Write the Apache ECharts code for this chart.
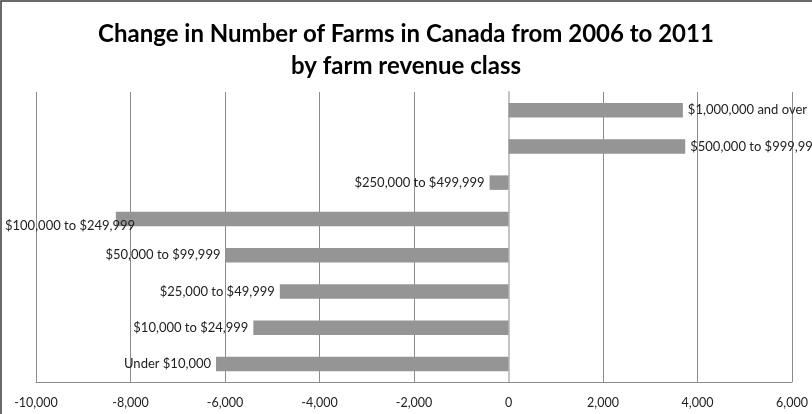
<!DOCTYPE html>
<html>
<head>
<meta charset="utf-8">
<script src="https://cdn.jsdelivr.net/npm/echarts@6/dist/echarts.min.js"></script>
<style>
  html, body { margin: 0; padding: 0; background: #fff; }
  #chart { width: 812px; height: 414px; }
</style>
</head>
<body>
<div id="chart"></div>
<script>
// Farm revenue classes, listed top to bottom
const revenueClasses = [
  '$1,000,000 and over',
  '$500,000 to $999,999',
  '$250,000 to $499,999',
  '$100,000 to $249,999',
  '$50,000 to $99,999',
  '$25,000 to $49,999',
  '$10,000 to $24,999',
  'Under $10,000'
];
// Change in number of farms, 2006 to 2011
const farmChange = [3690, 3740, -400, -8310, -5990, -4840, -5400, -6190];
// Horizontal axis range
const axisMin = -10000;
const axisMax = 6000;
const axisStep = 2000;

const labelFont = 'Lato, "Open Sans", sans-serif';

const chart = echarts.init(document.getElementById('chart'));
chart.setOption({
  animation: false,
  backgroundColor: '#ffffff',
  title: {
    text: 'Change in Number of Farms in Canada from 2006 to 2011\nby farm revenue class',
    left: 'center',
    top: 13,
    textStyle: {
      fontFamily: labelFont,
      fontWeight: 'bold',
      fontSize: 24,
      lineHeight: 32,
      color: '#000'
    }
  },
  graphic: [{
    type: 'rect',
    shape: { x: 1, y: 1, width: 840, height: 440 },
    style: { fill: 'none', stroke: '#3a3a3a', lineWidth: 1.5 },
    silent: true
  }],
  grid: { left: 36, right: 20, top: 92, bottom: 32, containLabel: false },
  xAxis: {
    type: 'value',
    min: axisMin,
    max: axisMax,
    interval: axisStep,
    axisLine: { show: true, lineStyle: { color: '#8c8c8c', width: 1 } },
    axisTick: { show: false },
    splitLine: { show: true, lineStyle: { color: '#8c8c8c', width: 1 } },
    axisLabel: {
      margin: 14,
      fontFamily: labelFont,
      fontSize: 12.5,
      color: '#222',
      formatter: v => v.toLocaleString('en-US')
    }
  },
  yAxis: {
    type: 'category',
    inverse: true,
    data: revenueClasses,
    axisLine: { show: true, onZero: true, lineStyle: { color: '#c4c4c4', width: 2 } },
    axisTick: { show: false },
    axisLabel: { show: false }
  },
  series: [{
    type: 'bar',
    data: farmChange.map(v => ({
      value: v,
      label: { position: v >= 0 ? 'right' : 'left' }
    })),
    barCategoryGap: '60%',
    itemStyle: { color: '#959595' },
    label: {
      show: true,
      formatter: '{b}',
      distance: 5,
      fontFamily: labelFont,
      fontSize: 13,
      color: '#222'
    },
    labelLayout: p => (p.labelRect.x < 5 ? { x: 5, align: 'left' } : {})
  }]
});
</script>
</body>
</html>
